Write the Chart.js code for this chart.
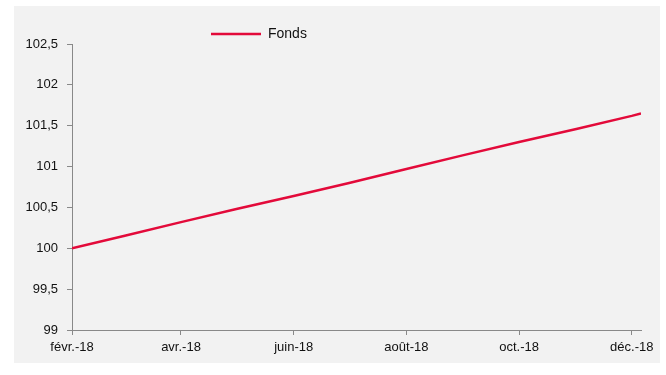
<!DOCTYPE html>
<html>
<head>
<meta charset="utf-8">
<script src="https://cdn.jsdelivr.net/npm/chart.js@4"></script>
<style>
    html, body { margin: 0; padding: 0; background: #ffffff; }
    #panel { position: absolute; left: 14px; top: 6px; width: 646px; height: 357px; background: #f2f2f2; }
    #chart { display: block; }
</style>
</head>
<body>
<div id="panel"><canvas id="chart" width="646" height="357"></canvas></div>
<script>
// Fonds index, monthly readings (last one early December)
const dates = ['2018-02-01', '2018-03-01', '2018-04-01', '2018-05-01', '2018-06-01', '2018-07-01',
    '2018-08-01', '2018-09-01', '2018-10-01', '2018-11-01', '2018-12-01', '2018-12-06'];
const fondsValues = [100, 100.15, 100.32, 100.48, 100.64, 100.80, 100.97, 101.14, 101.30, 101.46, 101.62, 101.65];
const tickDates = ['2018-02-01', '2018-04-01', '2018-06-01', '2018-08-01', '2018-10-01', '2018-12-01'];
const tickLabels = ['févr.-18', 'avr.-18', 'juin-18', 'août-18', 'oct.-18', 'déc.-18'];
const yTicks = { min: 99, max: 102.5, step: 0.5 };

const DAY = 86400000;
const start = Date.parse(dates[0]);
const toDay = d => Math.round((Date.parse(d) - start) / DAY);
const tickDays = tickDates.map(toDay);

const axisColor = '#898989';
const textColor = '#111111';
const red = '#e30a3a';

// move the legend to where the original has it (left of centre, above the plot)
const legendPos = {
    id: 'legendPos',
    afterLayout(chart) {
        const lg = chart.legend;
        if (!lg) return;
        const w = lg.right - lg.left;
        const h = lg.bottom - lg.top;
        lg.left = 187;
        lg.right = lg.left + w;
        lg.top = 11;
        lg.bottom = lg.top + h;
    }
};

new Chart(document.getElementById('chart'), {
    type: 'line',
    data: {
        datasets: [{
            label: 'Fonds',
            data: dates.map((d, i) => ({ x: toDay(d), y: fondsValues[i] })),
            borderColor: red,
            backgroundColor: red,
            borderWidth: 2.5,
            pointRadius: 0,
            tension: 0
        }]
    },
    options: {
        responsive: false,
        animation: false,
        layout: { padding: { top: 38, right: 19, bottom: 0, left: 0 } },
        scales: {
            x: {
                type: 'linear',
                min: 0,
                max: toDay(dates[dates.length - 1]),
                afterBuildTicks: scale => { scale.ticks = tickDays.map(v => ({ value: v })); },
                afterFit: scale => { scale.height = 33; },
                grid: { drawOnChartArea: false, drawTicks: true, tickLength: 5, color: axisColor },
                border: { color: axisColor, width: 1 },
                ticks: {
                    color: textColor,
                    font: { family: 'Liberation Sans', size: 13 },
                    padding: 5,
                    maxRotation: 0,
                    autoSkip: false,
                    callback: v => tickLabels[tickDays.indexOf(v)]
                }
            },
            y: {
                min: yTicks.min,
                max: yTicks.max,
                afterFit: scale => { scale.width = 58; },
                grid: { drawOnChartArea: false, drawTicks: true, tickLength: 5, color: axisColor },
                border: { color: axisColor, width: 1 },
                ticks: {
                    stepSize: yTicks.step,
                    color: textColor,
                    font: { family: 'Liberation Sans', size: 13 },
                    padding: 9,
                    callback: v => String(v).replace('.', ',')
                }
            }
        },
        plugins: {
            legend: {
                position: 'chartArea',
                align: 'start',
                labels: {
                    usePointStyle: true,
                    pointStyle: 'line',
                    pointStyleWidth: 50,
                    color: textColor,
                    padding: 10,
                    font: { family: 'Liberation Sans', size: 14 }
                }
            },
            tooltip: { enabled: false }
        }
    },
    plugins: [legendPos]
});
</script>
</body>
</html>
